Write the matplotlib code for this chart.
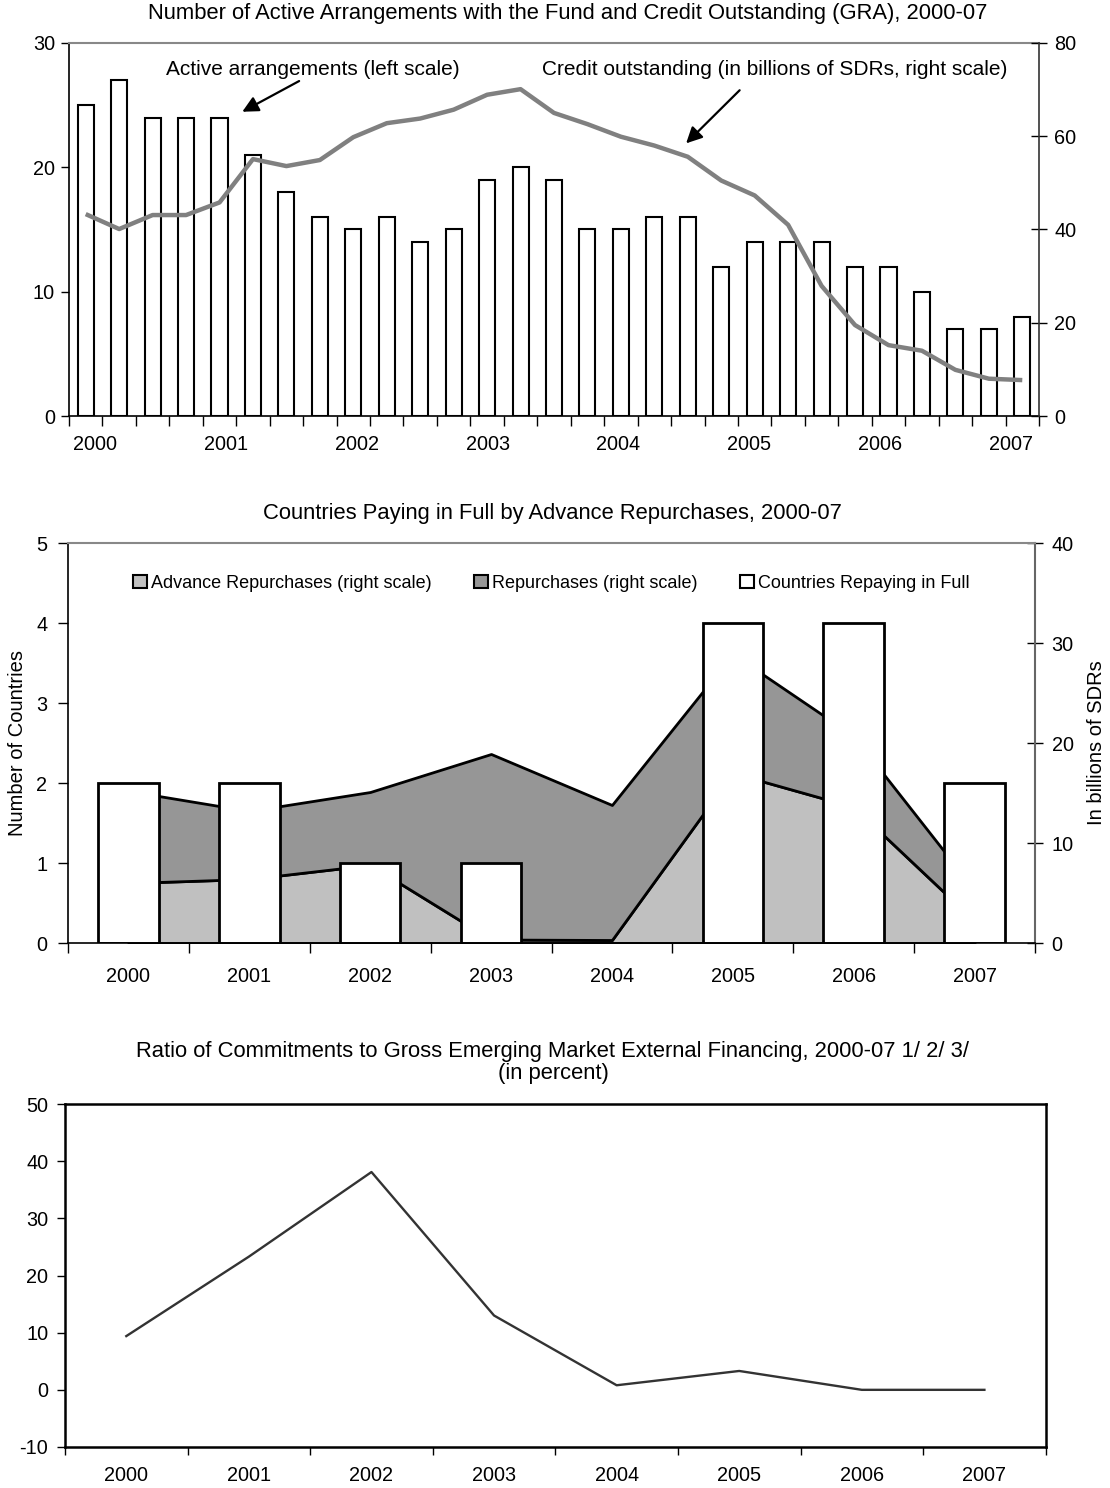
import numpy as np
import matplotlib
matplotlib.use('Agg')
import matplotlib.pyplot as plt
from matplotlib.patches import Patch

plt.rcParams['font.family'] = ['Liberation Sans', 'DejaVu Sans']
plt.rcParams['axes.unicode_minus'] = False

# ---------------- data ----------------
quarters = ['2000Q1', '2000Q2', '2000Q3', '2000Q4', '2001Q1', '2001Q2', '2001Q3', '2001Q4',
            '2002Q1', '2002Q2', '2002Q3', '2002Q4', '2003Q1', '2003Q2', '2003Q3', '2003Q4',
            '2004Q1', '2004Q2', '2004Q3', '2004Q4', '2005Q1', '2005Q2', '2005Q3', '2005Q4',
            '2006Q1', '2006Q2', '2006Q3', '2006Q4', '2007Q1']
active_arrangements = [25, 27, 24, 24, 24, 21, 18, 16, 15, 16, 14, 15, 19, 20, 19,
                       15, 15, 16, 16, 12, 14, 14, 14, 12, 12, 10, 7, 7, 8]
credit_outstanding = [43.3, 40.1, 43.1, 43.1, 45.8, 55.1, 53.6, 54.9, 59.8, 62.8, 63.8,
                      65.7, 68.9, 70.1, 65.0, 62.6, 59.9, 58.0, 55.6, 50.5, 47.3, 41.0,
                      27.9, 19.5, 15.2, 14.0, 9.9, 8.0, 7.7]
top_year_labels = ['2000', '2001', '2002', '2003', '2004', '2005', '2006', '2007']

years = ['2000', '2001', '2002', '2003', '2004', '2005', '2006', '2007']
countries_repaying = [2, 2, 1, 1, 0, 4, 4, 2]
advance_repurchases = [6.0, 6.4, 7.8, 0.35, 0.3, 17.0, 13.6, 2.2]
repurchases = [9.2, 6.8, 7.3, 18.55, 13.5, 11.9, 7.1, 3.1]

ratio_commitments = [9.4, 23.3, 38.1, 13.0, 0.8, 3.3, 0.0, 0.0]

# ---------------- layout helpers ----------------
W, H = 1110, 1488
fig = plt.figure(figsize=(W / 100, H / 100), dpi=100)
fig.patch.set_facecolor('white')


def rect(l, t, r, b):
    return [l / W, 1 - b / H, (r - l) / W, (b - t) / H]


TICK_FS = 14.3
TITLE_FS = 15.8

# ================= TOP CHART =================
ax1 = fig.add_axes(rect(69, 43, 1039, 416))
xq = np.arange(len(quarters)) + 0.5
ax1.bar(xq, active_arrangements, width=0.48, color='white', edgecolor='black',
        linewidth=1.5, zorder=2)
ax1.set_xlim(0, len(quarters))
ax1.set_ylim(0, 30)
ax1.set_yticks([0, 10, 20, 30])
ax1.set_xticks(np.arange(len(quarters) + 1))
ax1.set_xticklabels([])
year_pos_top = np.linspace(0.78, 28.16, len(top_year_labels))
ax1.set_xticks(year_pos_top, minor=True)
ax1.set_xticklabels(top_year_labels, minor=True)
ax1.tick_params(axis='x', which='major', direction='out', length=7, width=1)
ax1.tick_params(axis='x', which='minor', length=0, pad=14, labelsize=TICK_FS)
ax1.tick_params(axis='y', direction='out', length=6, width=1, pad=4, labelsize=TICK_FS)
ax1.spines['right'].set_visible(False)
ax1.spines['top'].set_color('#888888')
ax1.spines['top'].set_linewidth(1.5)
for s in ('left', 'bottom'):
    ax1.spines[s].set_linewidth(1.2)

ax1r = ax1.twinx()
ax1r.plot(xq, credit_outstanding, color='#808080', lw=3.2, solid_joinstyle='round',
          solid_capstyle='butt', zorder=3)
ax1r.set_ylim(0, 80)
ax1r.set_yticks([0, 20, 40, 60, 80])
ax1r.tick_params(axis='y', direction='inout', length=12, width=1, pad=5, labelsize=TICK_FS)
for s in ('left', 'top', 'bottom'):
    ax1r.spines[s].set_visible(False)
ax1r.spines['right'].set_color('#333333')
ax1r.spines['right'].set_linewidth(1.2)

arrow_kw = dict(arrowstyle='-|>', color='black', lw=1.6, mutation_scale=24,
                shrinkA=0, shrinkB=0)
ax1.annotate('', xy=(5.18, 24.47), xytext=(6.88, 26.94), arrowprops=arrow_kw, zorder=5)
ax1.annotate('', xy=(18.45, 21.93), xytext=(20.05, 26.2), arrowprops=arrow_kw, zorder=5)
ax1.text(7.29, 27.83, 'Active arrangements (left scale)', ha='center', va='center',
         fontsize=15)
ax1.text(21.1, 27.83, 'Credit outstanding (in billions of SDRs, right scale)',
         ha='center', va='center', fontsize=15)

fig.text(568 / W, 1 - 14 / H,
         'Number of Active Arrangements with the Fund and Credit Outstanding (GRA), 2000-07',
         ha='center', va='center', fontsize=TITLE_FS)

# ================= MIDDLE CHART =================
ax2 = fig.add_axes(rect(68, 543, 1035, 943))
ax2r = ax2.twinx()
ax2.set_zorder(ax2r.get_zorder() + 1)
ax2.patch.set_visible(False)

xm = np.arange(len(years)) + 0.5
adv = np.array(advance_repurchases)
tot = adv + np.array(repurchases)
ax2r.fill_between(xm, 0, adv, facecolor='#C0C0C0', edgecolor='black', linewidth=2)
ax2r.fill_between(xm, adv, tot, facecolor='#969696', edgecolor='black', linewidth=2)
ax2r.set_ylim(0, 40)
ax2r.set_yticks([0, 10, 20, 30, 40])

ax2.bar(xm, countries_repaying, width=0.5, color='white', edgecolor='black', linewidth=2)
ax2.set_xlim(0, len(years))
ax2.set_ylim(0, 5)
ax2.set_yticks([0, 1, 2, 3, 4, 5])
ax2.set_xticks(np.arange(len(years) + 1))
ax2.set_xticklabels([])
ax2.set_xticks(xm, minor=True)
ax2.set_xticklabels(years, minor=True)
ax2.tick_params(axis='x', which='major', direction='out', length=7, width=1)
ax2.tick_params(axis='x', which='minor', length=0, pad=17, labelsize=TICK_FS)
ax2.tick_params(axis='y', direction='out', length=7, width=1, pad=8, labelsize=TICK_FS)
ax2r.tick_params(axis='y', direction='inout', length=12, width=1, pad=6, labelsize=TICK_FS)

ax2.spines['right'].set_visible(False)
ax2.spines['top'].set_color('#888888')
ax2.spines['top'].set_linewidth(1.5)
for s in ('left', 'bottom'):
    ax2.spines[s].set_linewidth(1.2)
for s in ('left', 'top', 'bottom'):
    ax2r.spines[s].set_visible(False)
ax2r.spines['right'].set_color('#666666')
ax2r.spines['right'].set_linewidth(1.5)

ax2.set_ylabel('Number of Countries', fontsize=14.5)
ax2.yaxis.set_label_coords((18 - 68) / 967, 0.5)
ax2.yaxis.label.set_va('center')
ax2r.set_ylabel('In billions of SDRs', fontsize=14.5)
ax2r.yaxis.set_label_coords((1097 - 68) / 967, 0.5)
ax2r.yaxis.label.set_va('center')

handles = [Patch(facecolor='#C0C0C0', edgecolor='black', linewidth=1.5),
           Patch(facecolor='#969696', edgecolor='black', linewidth=1.5),
           Patch(facecolor='white', edgecolor='black', linewidth=1.5)]
labels = ['Advance Repurchases (right scale)', 'Repurchases (right scale)',
          'Countries Repaying in Full']
ax2.legend(handles, labels, loc='center', bbox_to_anchor=(0.5, 0.9), ncol=3,
           frameon=False, fontsize=13, handlelength=0.75, handleheight=0.75,
           handletextpad=0.25, columnspacing=2.35)

fig.text(552 / W, 1 - 513 / H, 'Countries Paying in Full by Advance Repurchases, 2000-07',
         ha='center', va='center', fontsize=TITLE_FS)

# ================= BOTTOM CHART =================
ax3 = fig.add_axes(rect(65, 1104, 1045.7, 1447))
ax3.plot(xm, ratio_commitments, color='#333333', lw=1.7)
ax3.set_xlim(0, len(years))
ax3.set_ylim(-10, 50)
ax3.set_yticks(np.arange(-10, 51, 10))
ax3.set_xticks(np.arange(len(years) + 1))
ax3.set_xticklabels([])
ax3.set_xticks(xm, minor=True)
ax3.set_xticklabels(years, minor=True)
ax3.tick_params(axis='x', which='major', direction='out', length=6, width=1)
ax3.tick_params(axis='x', which='minor', length=0, pad=14, labelsize=TICK_FS)
ax3.tick_params(axis='y', direction='out', length=6, width=1, pad=6, labelsize=TICK_FS)
for s in ax3.spines.values():
    s.set_linewidth(1.8)
    s.set_color('black')

fig.text(553 / W, 1 - 1052 / H,
         'Ratio of Commitments to Gross Emerging Market External Financing, 2000-07 1/ 2/ 3/',
         ha='center', va='center', fontsize=TITLE_FS)
fig.text(553 / W, 1 - 1073 / H, '(in percent)', ha='center', va='center', fontsize=TITLE_FS)

fig.savefig('out.png', dpi=100, facecolor='white')
